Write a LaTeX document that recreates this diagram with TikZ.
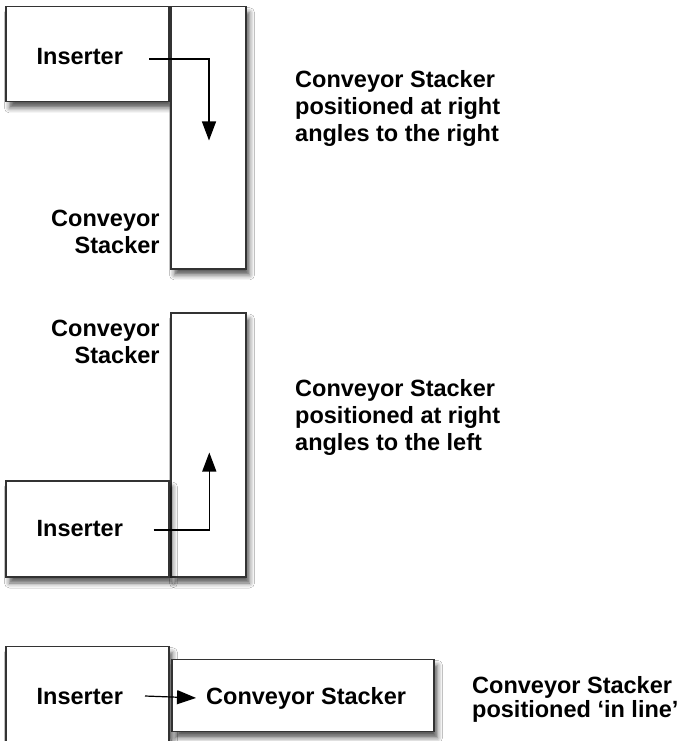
\documentclass[tikz,border=0pt]{standalone}
\usepackage{fontspec}
\setmainfont{Liberation Sans}
\usetikzlibrary{arrows.meta,shadows.blur}

\tikzset{
  unitbox/.style={draw=black!80, line width=1.1pt, fill=white, inner sep=0pt,
    blur shadow={shadow xshift=3.5pt, shadow yshift=-6pt, shadow blur radius=5pt, shadow opacity=65}},
  lbl/.style={inner sep=0pt, font=\bfseries\fontsize{23.5}{27}\selectfont},
  flow/.style={draw=black, line width=1.2pt, -{Triangle[length=19pt,width=14pt]}}
}

\begin{document}
\begin{tikzpicture}[x=1pt,y=-1pt]
\useasboundingbox[fill=white] (0,0) rectangle (680,741);

% --- stacker at right angles, to the right ---
\node[unitbox, minimum width=163pt, minimum height=95.3pt] (ins1) at (87.5,54.3) {};
\node[unitbox, minimum width=75pt, minimum height=262.3pt] (cs1) at (208.5,137.8) {};
\node[lbl, anchor=base west] (ins1t) at (36.5,65) {Inserter};
\node[lbl, anchor=north east, align=right] (cs1t) at (159.8,209.5) {Conveyor\\Stacker};
\node[lbl, anchor=north west, align=left] (note1) at (295,70.7)
  {Conveyor Stacker\\positioned at right\\angles to the right};
\coordinate (f1a) at (149,59);
\coordinate (f1b) at (209,140.5);
\draw[flow] (f1a) -| (f1b);

% --- stacker at right angles, to the left ---
\node[unitbox, minimum width=75pt, minimum height=264pt] (cs2) at (208.5,445) {};
\node[unitbox, minimum width=163pt, minimum height=96pt] (ins2) at (87.5,529) {};
\node[lbl, anchor=base west] (ins2t) at (36.5,536.7) {Inserter};
\node[lbl, anchor=north east, align=right] (cs2t) at (159.8,319.7) {Conveyor\\Stacker};
\node[lbl, anchor=north west, align=left] (note2) at (295,379)
  {Conveyor Stacker\\positioned at right\\angles to the left};
\coordinate (f2a) at (153.5,530);
\coordinate (f2b) at (209.3,452.5);
\draw[flow] (f2a) -| (f2b);

% --- stacker in line ---
\node[unitbox, minimum width=163pt, minimum height=101.3pt] (ins3) at (87.5,697.3) {};
\node[unitbox, minimum width=262pt, minimum height=72.4pt] (cs3) at (303,695.5) {};
\node[lbl, anchor=base west] (ins3t) at (36.5,704) {Inserter};
\node[lbl, anchor=base west] (cs3t) at (206,704) {Conveyor Stacker};
\node[lbl, anchor=north west, align=left, font=\bfseries\fontsize{23.5}{24}\selectfont] (note3) at (472,676)
  {Conveyor Stacker\\positioned ‘in line’};
\coordinate (f3a) at (145,696);
\draw[flow] (f3a) -- (cs3t.west -| 196,0);
\end{tikzpicture}
\end{document}
